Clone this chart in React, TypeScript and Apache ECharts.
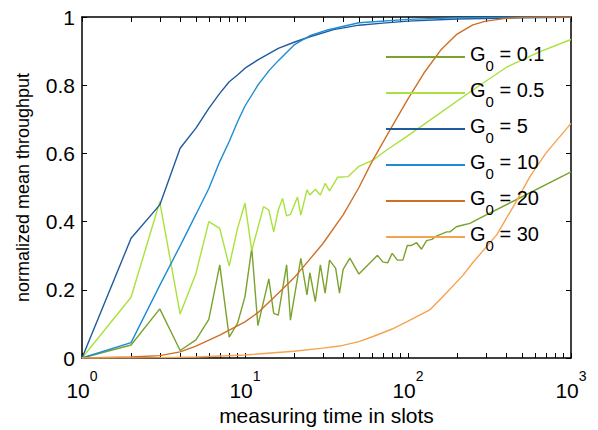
import React, { useEffect, useRef } from 'react';
import * as echarts from 'echarts';

const FONT = "'Liberation Sans', Arial, Helvetica, sans-serif";

// G0 = 0.1
const xG01 = [1, 2, 3, 4, 5, 6, 7, 8, 9, 10, 11, 12, 14, 15, 16, 18, 19, 22, 24, 25, 27, 29, 31, 33, 36, 38, 40, 44, 50, 65, 70, 75, 80, 86, 93, 99, 105, 113, 121, 130, 140, 150, 160, 173, 181, 198, 218, 240, 276, 1000];
const yG01 = [0, 0.038, 0.144, 0.022, 0.053, 0.113, 0.273, 0.061, 0.102, 0.18, 0.322, 0.095, 0.232, 0.131, 0.126, 0.273, 0.111, 0.292, 0.185, 0.25, 0.165, 0.273, 0.19, 0.287, 0.263, 0.19, 0.26, 0.293, 0.246, 0.301, 0.282, 0.279, 0.307, 0.287, 0.287, 0.33, 0.33, 0.338, 0.319, 0.344, 0.348, 0.358, 0.363, 0.37, 0.37, 0.385, 0.39, 0.395, 0.41, 0.546];

// G0 = 0.5
const xG05 = [1, 2, 3, 4, 5, 6, 7, 8, 9, 10, 11, 13, 14, 15, 16, 17, 18, 19, 21, 22, 24, 25, 27, 29, 31, 33, 37, 43, 50, 61, 74, 98, 157, 250, 400, 640, 1000];
const yG05 = [0, 0.178, 0.458, 0.129, 0.248, 0.4, 0.38, 0.27, 0.38, 0.454, 0.315, 0.444, 0.434, 0.37, 0.434, 0.468, 0.417, 0.421, 0.472, 0.419, 0.493, 0.478, 0.495, 0.478, 0.512, 0.49, 0.53, 0.532, 0.562, 0.58, 0.61, 0.649, 0.718, 0.786, 0.852, 0.898, 0.934];

// G0 = 5
const xG5 = [1, 2, 3, 4, 5, 6, 7, 8, 9, 10, 12, 16, 20, 25, 35, 50, 70, 100, 200, 500, 1000];
const yG5 = [0, 0.351, 0.449, 0.615, 0.674, 0.732, 0.776, 0.81, 0.83, 0.85, 0.874, 0.908, 0.926, 0.942, 0.963, 0.976, 0.982, 0.988, 0.994, 0.998, 0.999];

// G0 = 10
const xG10 = [1, 2, 3, 4, 5, 6, 7, 8, 9, 10, 12, 14, 16, 20, 25, 32, 50, 100, 200, 500, 1000];
const yG10 = [0, 0.045, 0.213, 0.329, 0.421, 0.497, 0.576, 0.635, 0.693, 0.739, 0.8, 0.842, 0.872, 0.918, 0.945, 0.962, 0.983, 0.993, 0.998, 1, 1];

// G0 = 20
const xG20 = [1, 2, 3, 4, 5, 7, 10, 12, 16, 20, 25, 30, 40, 50, 60, 80, 100, 125, 160, 200, 250, 300, 400, 500, 700, 1000];
const yG20 = [0, 0.003, 0.007, 0.018, 0.035, 0.067, 0.106, 0.133, 0.19, 0.235, 0.29, 0.335, 0.42, 0.5, 0.575, 0.68, 0.76, 0.835, 0.905, 0.95, 0.977, 0.988, 0.996, 0.999, 1, 1];

// G0 = 30
const xG30 = [1, 2, 3, 5, 10, 20, 30, 38, 50, 61, 80, 98, 136, 160, 218, 250, 350, 450, 560, 700, 1000];
const yG30 = [0, 0.0005, 0.001, 0.003, 0.009, 0.02, 0.029, 0.035, 0.048, 0.063, 0.085, 0.106, 0.141, 0.175, 0.243, 0.28, 0.361, 0.45, 0.532, 0.6, 0.688];

const seriesLabels = ['0.1', '0.5', '5', '10', '20', '30'];
const seriesColors = ['#7aa22c', '#a9e23c', '#1f5b9e', '#1b8cd6', '#cf6f25', '#f6a24f'];
const seriesX = [xG01, xG05, xG5, xG10, xG20, xG30];
const seriesY = [yG01, yG05, yG5, yG10, yG20, yG30];

const xMajorTicks = [1, 10, 100, 1000];
const xMinorTicks = [2, 3, 4, 5, 6, 7, 8, 9, 20, 30, 40, 50, 60, 70, 80, 90, 200, 300, 400, 500, 600, 700, 800, 900];

const xTitle = 'measuring time in slots';
const yTitle = 'normalized mean throughput';

export default function App() {
  const ref = useRef<HTMLDivElement>(null);
  useEffect(() => {
    if (!ref.current) return;
    const chart = echarts.init(ref.current, undefined, { renderer: 'svg' });
    const black = '#000';
    const axisLine = { show: true, onZero: false, lineStyle: { color: black, width: 1.5 } };
    const xTickValues = [...xMajorTicks, ...xMinorTicks].sort((a, b) => a - b);
    const names = seriesLabels.map((l) => `G0 = ${l}`);
    const xAxisBase = {
      type: 'log',
      logBase: 10,
      min: 1,
      max: 1000,
      gridIndex: 0,
      splitLine: { show: false },
      axisLine,
      axisTick: { show: true, inside: true, length: 5, customValues: xTickValues, lineStyle: { color: black, width: 1 } },
    };
    const yAxisBase = {
      type: 'value',
      min: 0,
      max: 1,
      interval: 0.2,
      gridIndex: 0,
      splitLine: { show: false },
      axisLine,
      axisTick: { show: true, inside: true, length: 5, lineStyle: { color: black, width: 1 } },
    };
    const option = {
      animation: false,
      backgroundColor: '#fff',
      textStyle: { fontFamily: FONT },
      grid: { left: 82, right: 27, top: 17, bottom: 72, containLabel: false, outerBoundsMode: 'none' },
      legend: {
        orient: 'vertical',
        left: 381,
        top: 34,
        itemWidth: 79,
        itemHeight: 2,
        itemGap: 0,
        icon: 'rect',
        selectedMode: false,
        data: names,
        formatter: (name: string) => {
          const v = name.split('= ')[1];
          return `{g|G}{s|0}{g| = ${v}}`;
        },
        textStyle: {
          color: black,
          fontFamily: FONT,
          fontSize: 20,
          lineHeight: 36,
          rich: {
            g: { fontFamily: FONT, fontSize: 20, height: 20, lineHeight: 36, color: black, padding: [5, 0, 0, 0], verticalAlign: 'top' },
            s: { fontFamily: FONT, fontSize: 15, height: 20, lineHeight: 36, color: black, verticalAlign: 'bottom' },
          },
        },
      },
      xAxis: [
        {
          ...xAxisBase,
          position: 'bottom',
          name: xTitle,
          nameLocation: 'middle',
          nameGap: 43,
          nameTextStyle: { color: black, fontFamily: FONT, fontSize: 21 },
          axisLabel: {
            show: true,
            customValues: xMajorTicks,
            margin: 11,
            color: black,
            formatter: (v: number) => `{b|10}{sup|${Math.round(Math.log10(v))}}`,
            rich: {
              b: { fontFamily: FONT, fontSize: 21, height: 20, lineHeight: 31, color: black, padding: [11, 0, 0, 0], verticalAlign: 'top' },
              sup: { fontFamily: FONT, fontSize: 14, height: 14, lineHeight: 31, color: black, verticalAlign: 'top' },
            },
          },
        },
        {
          ...xAxisBase,
          position: 'top',
          axisLabel: { show: false },
        },
      ],
      yAxis: [
        {
          ...yAxisBase,
          position: 'left',
          name: yTitle,
          nameLocation: 'middle',
          nameGap: 50,
          nameTextStyle: { color: black, fontFamily: FONT, fontSize: 18 },
          axisLabel: { show: true, color: black, fontFamily: FONT, fontSize: 21, margin: 7 },
        },
        {
          ...yAxisBase,
          position: 'right',
          axisLabel: { show: false },
        },
      ],
      series: seriesLabels.map((l, i) => ({
        type: 'line',
        name: names[i],
        xAxisIndex: 0,
        yAxisIndex: 0,
        showSymbol: false,
        symbol: 'none',
        color: seriesColors[i],
        lineStyle: { color: seriesColors[i], width: 1.4 },
        data: seriesX[i].map((x, j) => [x, seriesY[i][j]]),
      })),
    };
    chart.setOption(option as any);
    return () => chart.dispose();
  }, []);
  return <div ref={ref} style={{ position: 'fixed', left: 0, top: 0, width: 598, height: 430, background: '#fff' }} />;
}
